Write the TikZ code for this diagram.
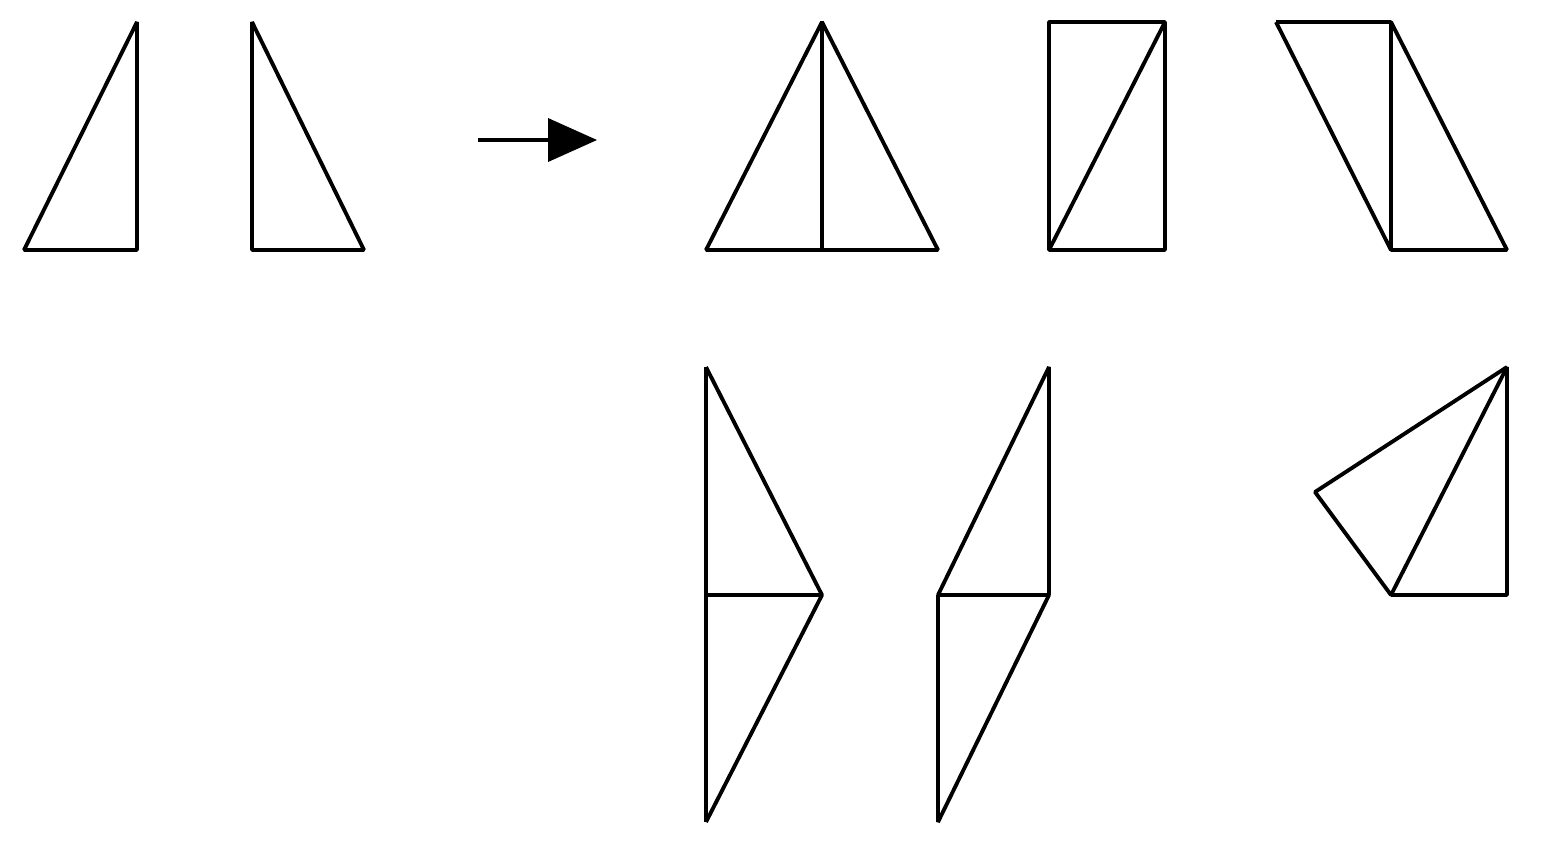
\documentclass[tikz,border=0pt]{standalone}
\begin{document}
\begin{tikzpicture}[scale=0.1, line width=1.1pt, line join=bevel]
	\useasboundingbox (0,0) rectangle (154.2,-85.8);
	% the two starting triangles
	\draw [black] (13.7,-2.2) -- (13.7,-25) -- (2.4,-25) -- cycle;
	\draw [black] (25.2,-2.2) -- (25.2,-25) -- (36.4,-25) -- cycle;
	% arrow
	\coordinate (tail) at (47.8,-14);
	\coordinate (base) at (54.8,-14);
	\draw [black] (tail) -- (base);
	\fill [black] (59.7,-14) -- (54.8,-11.8) -- (54.8,-16.2) -- cycle;
	% top row
	\draw [black] (70.6,-25) -- (82.2,-2.2) -- (93.8,-25) -- cycle;
	\draw [black] (82.2,-2.2) -- (82.2,-25);
	\draw [black] (104.9,-2.2) rectangle (116.5,-25);
	\draw [black] (104.9,-25) -- (116.5,-2.2);
	\draw [black] (127.6,-2.2) -- (139.1,-2.2) -- (139.1,-25) -- (150.7,-25) -- (139.1,-2.2);
	\draw [black] (127.6,-2.2) -- (139.1,-25);
	% bottom row
	\draw [black] (70.6,-36.7) -- (70.6,-82.2);
	\draw [black] (70.6,-36.7) -- (82.2,-59.5) -- (70.6,-82.2);
	\draw [black] (70.6,-59.5) -- (82.2,-59.5);
	\draw [black] (104.9,-36.7) -- (104.9,-59.5) -- (93.8,-59.5) -- cycle;
	\draw [black] (93.8,-59.5) -- (93.8,-82.2) -- (104.9,-59.5);
	\draw [black] (150.7,-36.7) -- (150.7,-59.5) -- (139.1,-59.5) -- cycle;
	\draw [black] (150.7,-36.7) -- (131.5,-49.2) -- (139.1,-59.5);
\end{tikzpicture}
\end{document}
